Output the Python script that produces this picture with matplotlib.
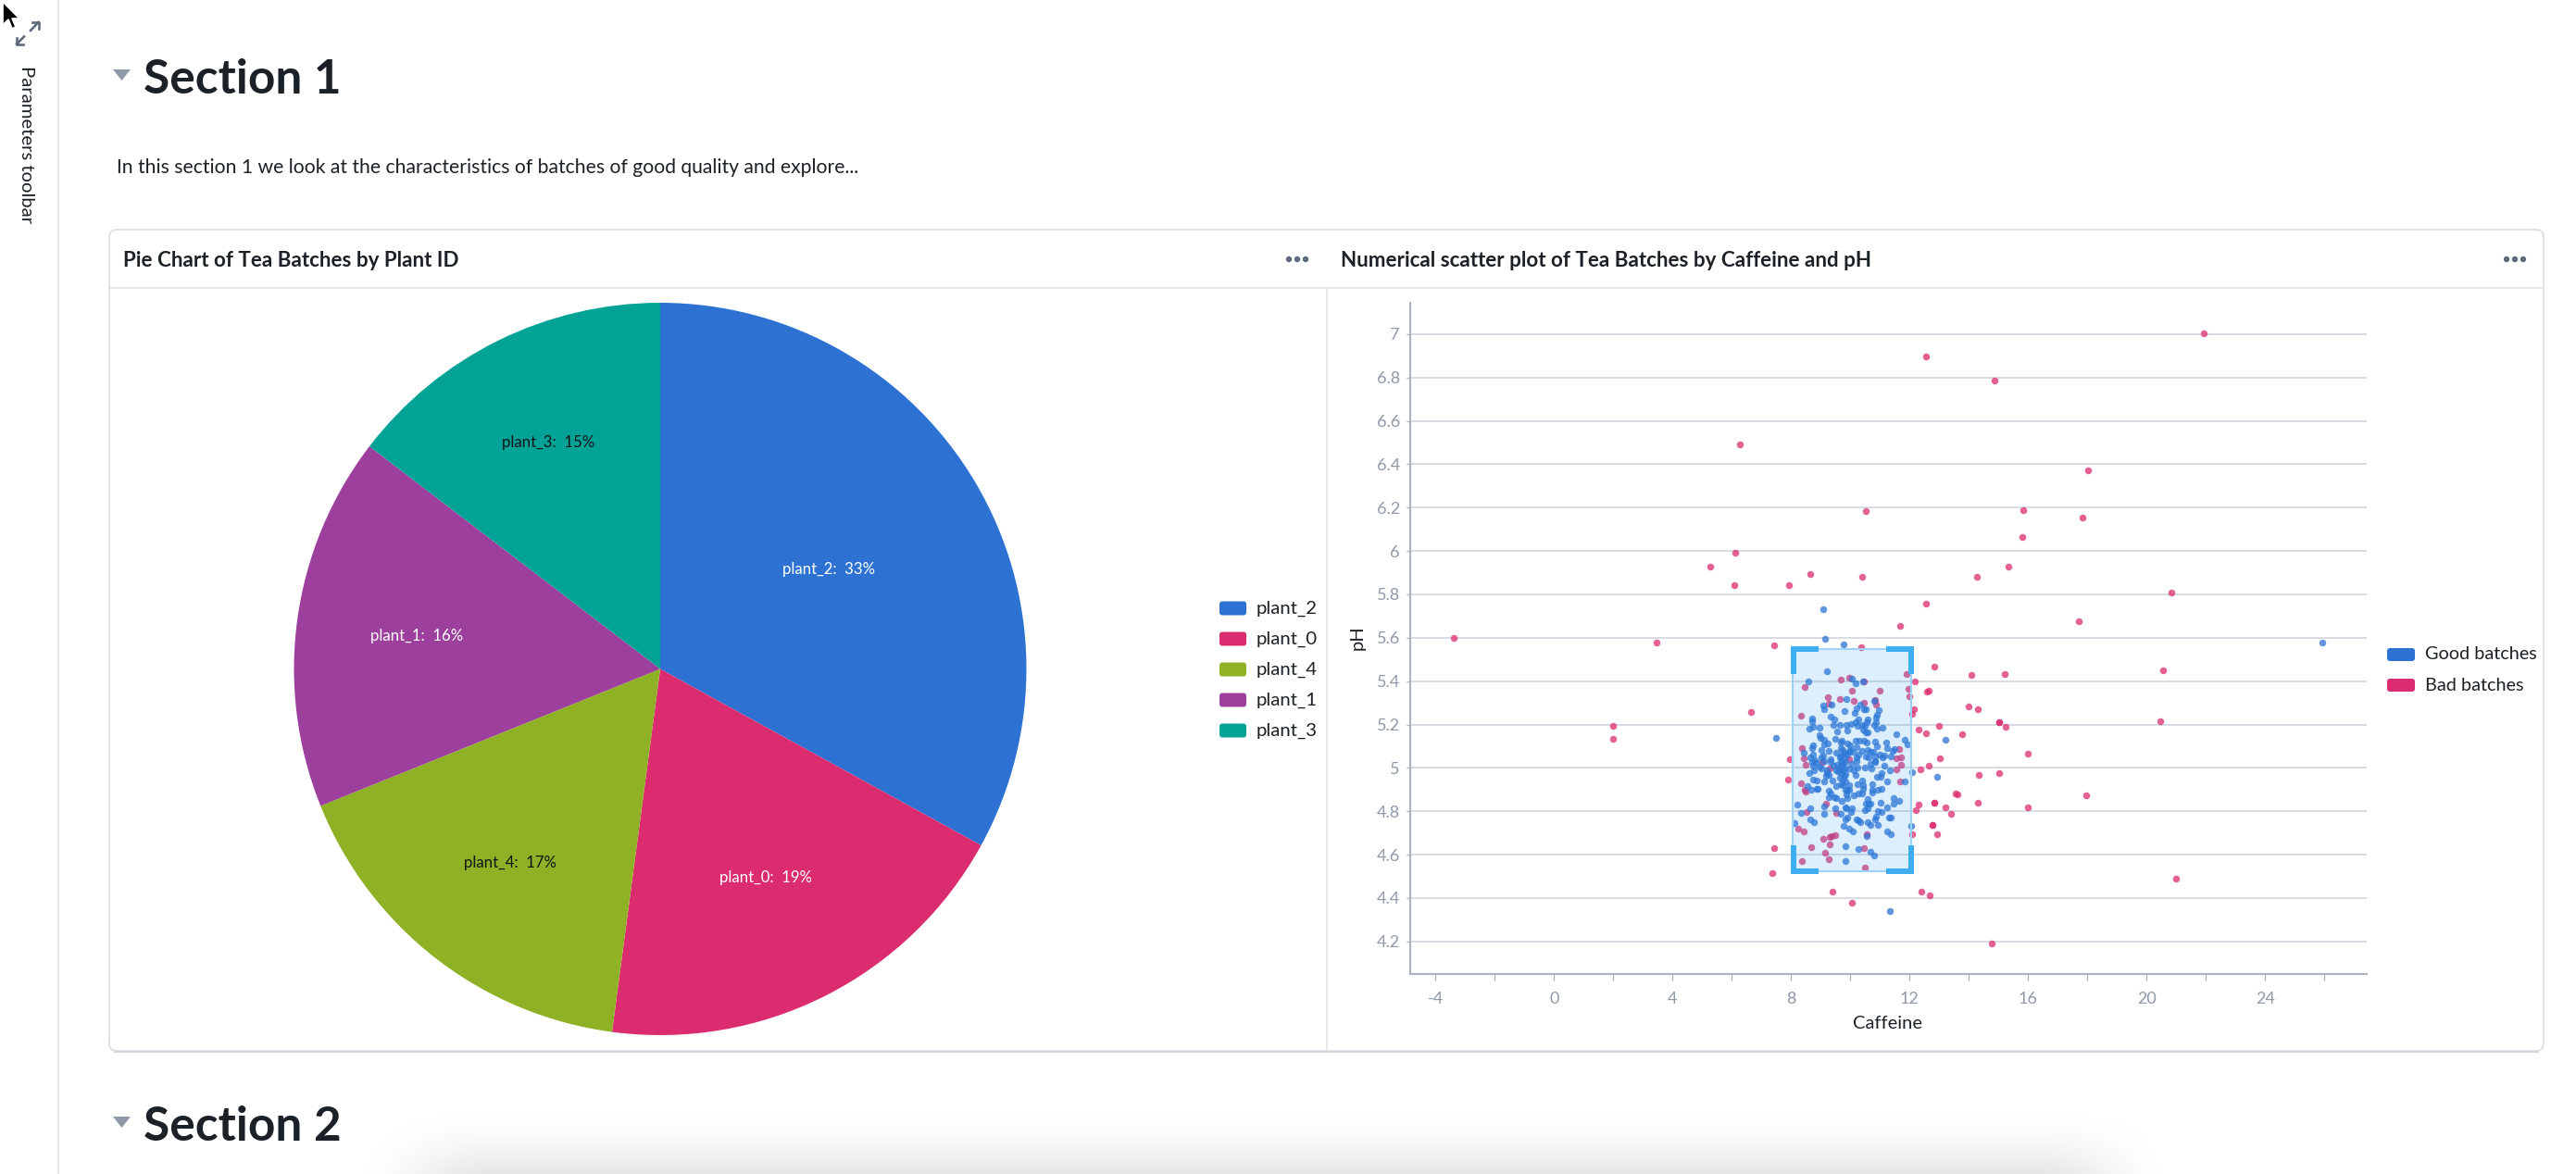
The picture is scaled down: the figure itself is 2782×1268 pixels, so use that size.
import numpy as np
import matplotlib
matplotlib.use("Agg")
import matplotlib.pyplot as plt
from matplotlib.patches import Rectangle, FancyBboxPatch, Polygon, Circle

# ------------------ data ------------------
plants = ["plant_2", "plant_0", "plant_4", "plant_1", "plant_3"]
plant_shares = [33.0, 19.1, 16.8, 16.5, 14.6]
plant_labels = ["33%", "19%", "17%", "16%", "15%"]
plant_colors = ["#2D72D2", "#DB2C6F", "#8EB125", "#9D3F9D", "#00A396"]
plant_text = ["white", "white", "#111418", "white", "#111418"]

good_batches = [
 (9.20,5.447),(8.58,5.398),(10.04,5.410),(10.18,5.390),(10.44,5.400),(9.07,5.289),(9.12,5.272),(9.38,5.291),
 (9.87,5.317),(10.79,5.308),(10.34,5.294),(10.21,5.277),(10.15,5.254),(10.96,5.268),(9.79,5.264),(10.47,5.271),
 (10.52,5.271),(10.91,5.244),(10.88,5.233),(9.32,5.237),(9.46,5.223),(8.71,5.228),(8.72,5.214),(10.28,5.223),
 (10.57,5.225),(10.54,5.211),(9.44,5.197),(9.65,5.198),(9.86,5.198),(10.02,5.204),(10.19,5.213),(10.79,5.197),
 (10.86,5.213),(10.24,5.193),(10.40,5.197),(10.50,5.193),(8.74,5.189),(8.61,5.179),(8.95,5.184),(9.54,5.169),
 (9.91,5.173),(10.90,5.181),(11.07,5.187),(10.44,5.176),(10.52,5.164),(10.60,5.163),(11.55,5.157),(8.96,5.152),
 (9.00,5.140),(9.48,5.133),(11.84,5.129),(11.92,5.109),(11.22,5.119),(9.72,5.126),(9.67,5.116),(10.18,5.127),
 (10.31,5.124),(10.47,5.126),(10.54,5.116),(10.84,5.123),(9.25,5.113),(9.13,5.129),(9.11,5.107),(8.75,5.105),
 (8.70,5.090),(9.03,5.082),(9.27,5.080),(9.90,5.112),(9.98,5.105),(9.74,5.083),(10.21,5.097),(11.25,5.093),
 (10.89,5.100),(10.57,5.083),(11.49,5.087),(11.44,5.079),(8.42,5.070),(8.75,5.062),(9.10,5.059),(10.40,5.079),
 (10.00,5.083),(10.08,5.073),(10.68,5.076),(10.78,5.073),(9.90,5.062),(9.69,5.059),(10.26,5.062),(10.52,5.055),
 (10.84,5.055),(11.36,5.055),(8.65,5.048),(9.01,5.048),(9.32,5.041),(9.53,5.069),(9.79,5.069),(9.95,5.076),
 (10.21,5.048),(10.63,5.048),(10.99,5.062),(11.10,5.048),(11.15,5.059),(9.69,5.090),(9.64,5.048),(9.79,5.050),
 (8.70,5.029),(8.86,5.023),(9.32,5.029),(9.56,5.014),(9.74,5.023),(9.01,4.997),(8.78,4.990),(8.62,4.976),
 (9.20,4.976),(9.27,4.969),(9.74,4.990),(9.69,4.976),(9.85,4.972),(9.95,4.997),(10.18,4.969),(10.24,5.002),
 (10.50,5.002),(10.70,4.997),(10.84,5.026),(11.15,5.009),(11.34,4.990),(11.04,4.976),(11.02,4.959),(10.89,4.959),
 (8.75,4.948),(8.86,4.940),(9.12,4.938),(9.41,4.940),(9.69,4.926),(9.53,4.915),(9.85,4.938),(10.40,4.940),
 (10.24,4.926),(10.42,4.919),(10.75,4.926),(11.25,4.938),(11.82,4.938),(12.08,4.979),(8.54,4.915),(8.67,4.901),
 (8.86,4.905),(8.91,4.902),(9.27,4.893),(9.32,4.884),(9.27,4.866),(9.45,4.866),(9.53,4.859),(9.85,4.901),
 (9.90,4.893),(9.95,4.898),(10.42,4.902),(10.40,4.884),(10.26,4.884),(10.13,4.874),(9.87,4.876),(9.90,4.862),
 (10.73,4.898),(10.73,4.886),(10.94,4.898),(11.04,4.905),(10.57,4.858),(10.61,4.834),(10.52,4.834),(10.68,4.837),
 (11.02,4.841),(11.46,4.862),(11.46,4.837),(11.65,4.849),(11.25,4.820),(9.72,4.848),(9.48,4.812),(9.85,4.820),
 (9.87,4.812),(10.05,4.812),(10.02,4.798),(9.12,4.824),(8.65,4.815),(8.21,4.831),(8.34,4.791),(9.12,4.790),
 (10.50,4.805),(10.57,4.815),(10.94,4.801),(11.06,4.798),(10.87,4.777),(10.84,4.763),(9.69,4.790),(9.90,4.770),
 (9.82,4.763),(10.26,4.760),(10.21,4.763),(10.34,4.748),(10.57,4.748),(10.68,4.738),(10.92,4.736),(11.31,4.770),
 (11.36,4.770),(8.65,4.764),(8.78,4.748),(8.11,4.747),(9.77,4.731),(9.95,4.721),(10.08,4.709),(11.24,4.709),
 (11.37,4.694),(10.55,4.687),(12.05,4.733),(9.85,4.637),(10.27,4.627),(10.68,4.613),(10.80,4.598),(9.85,4.572),
 (9.72,5.012),(9.79,4.997),(9.64,5.000),(9.59,4.983),(9.79,4.962),(9.64,4.955),(9.74,4.948),(9.22,4.990),
 (9.17,4.962),(8.96,5.004),(9.95,4.919),(9.74,4.919),(9.85,5.026),(9.69,5.033),(10.84,5.033),(10.68,5.019),
 (10.05,5.019),(10.21,5.033),(9.12,5.033),(8.80,5.036),(9.43,5.012),(9.53,4.990),(10.11,4.990),(8.75,5.012),
 (9.08,5.731),(9.15,5.596),(9.78,5.569),(7.50,5.138),(13.20,5.129),(12.92,4.959),(11.33,4.339),(25.94,5.580),
]

bad_batches = [
 (9.67,5.409),(9.96,5.416),(10.45,5.400),(8.45,5.373),(10.04,5.358),(11.00,5.356),(9.24,5.325),(9.27,5.298),
 (9.64,5.319),(10.11,5.308),(10.46,5.302),(10.82,5.312),(10.87,5.294),(8.35,5.241),(8.38,5.092),(11.90,5.432),
 (11.96,5.366),(11.98,5.332),(11.64,5.086),(9.95,5.041),(8.44,5.045),(11.56,5.045),(11.70,5.048),(8.49,5.016),
 (9.06,5.026),(9.29,4.997),(11.56,4.992),(11.71,5.014),(8.34,4.930),(8.47,4.901),(8.49,4.891),(11.67,4.939),
 (9.17,4.837),(8.52,4.798),(9.53,4.791),(8.25,4.721),(8.42,4.709),(10.54,4.694),(12.08,4.694),(9.50,4.689),
 (9.29,4.682),(9.38,4.684),(9.07,4.674),(9.29,4.649),(8.68,4.636),(10.46,4.630),(9.15,4.609),(9.27,4.579),
 (8.36,4.569),(10.49,4.541),
 (-3.39,5.600),(3.46,5.580),(7.44,5.566),(12.54,5.757),(11.68,5.654),(10.36,5.558),(12.83,5.467),(14.09,5.430),
 (15.20,5.434),(12.18,5.400),(12.60,5.353),(12.65,5.354),(6.66,5.256),(1.99,5.193),(1.98,5.134),(12.14,5.269),
 (12.08,5.249),(13.98,5.282),(14.31,5.269),(15.01,5.213),(15.01,5.213),(15.24,5.189),(13.00,5.192),(12.30,5.175),
 (12.54,5.159),(13.78,5.155),(15.98,5.065),(13.02,5.046),(12.65,5.009),(12.38,4.994),(15.01,4.977),(14.34,4.967),
 (7.95,5.041),(7.89,4.945),(13.56,4.882),(13.61,4.878),(12.83,4.839),(12.83,4.839),(12.29,4.831),(12.20,4.804),
 (13.20,4.816),(13.40,4.788),(14.29,4.839),(16.00,4.816),(12.78,4.735),(12.78,4.735),(12.92,4.693),(7.44,4.632),
 (7.36,4.515),(9.40,4.431),(10.04,4.378),(12.40,4.430),(12.69,4.411),(14.76,4.191),
 (21.93,7.003),(12.55,6.897),(14.86,6.784),(6.28,6.491),(18.02,6.370),(10.53,6.185),(15.82,6.190),(17.84,6.153),
 (15.79,6.065),(6.13,5.993),(5.27,5.928),(15.35,5.926),(8.64,5.894),(10.40,5.882),(14.26,5.882),(6.08,5.841),
 (7.92,5.841),(20.84,5.808),(20.56,5.450),(20.45,5.216),(17.70,5.678),(17.96,4.875),(21.00,4.490),
]

x_ticks = list(range(-4, 28, 2))
x_tick_labels = ["-4", "", "0", "", "4", "", "8", "", "12", "", "16", "", "20", "", "24", ""]
y_ticks = [4.2, 4.4, 4.6, 4.8, 5.0, 5.2, 5.4, 5.6, 5.8, 6.0, 6.2, 6.4, 6.6, 6.8, 7.0]
y_tick_labels = ["4.2", "4.4", "4.6", "4.8", "5", "5.2", "5.4", "5.6", "5.8", "6", "6.2", "6.4", "6.6", "6.8", "7"]
scatter_series = ["Good batches", "Bad batches"]
scatter_colors = ["#2D72D2", "#DB2C6F"]
selection_x = (8.05, 12.04)
selection_y = (4.525, 5.548)

# ------------------ page ------------------
W, H = 2782, 1268
FONT = ["Lato", "DejaVu Sans"]
plt.rcParams["font.family"] = FONT
INK = "#1C2127"
BORDER = "#D8DCE2"
GRAY = "#8F99A8"

fig = plt.figure(figsize=(W / 100, H / 100), dpi=100, facecolor="white")

def px_axes(l, t, r, b, **kw):
    return fig.add_axes([l / W, 1 - b / H, (r - l) / W, (b - t) / H], **kw)

page = px_axes(0, 0, W, H, zorder=0)
page.set_xlim(0, W); page.set_ylim(H, 0); page.axis("off")
top = px_axes(0, 0, W, H, zorder=5)
top.set_xlim(0, W); top.set_ylim(H, 0); top.axis("off"); top.patch.set_alpha(0)

# sidebar
page.plot([63, 63], [0, H], color="#DCE0E5", lw=1.2)
page.text(28, 156, "Parameters toolbar", rotation=-90, ha="center", va="center", fontsize=14.6, color=INK)
for a, b in [((33, 33), (41.5, 24)), ((26, 39.5), (18, 47.7))]:
    page.plot([a[0], b[0]], [a[1], b[1]], color="#5F6B7C", lw=1.9)
    sx = 1 if b[0] > a[0] else -1
    sy = 1 if b[1] > a[1] else -1
    page.plot([b[0] - sx * 7, b[0], b[0]], [b[1], b[1], b[1] - sy * 7], color="#5F6B7C", lw=1.9)
top.add_patch(Polygon([(3, 2), (3, 27), (9, 21), (13, 31), (17, 29), (13, 20), (21, 20)],
                      closed=True, fc="black", ec="white", lw=1.2, zorder=9))

# headings
for tx, ty, label in [(155, 101, "Section 1"), (155, 1232, "Section 2")]:
    page.text(tx, ty, label, fontsize=37, fontweight="bold", color=INK, ha="left", va="baseline")
    page.add_patch(Polygon([(122, ty - 26), (141, ty - 26), (131.5, ty - 14)], closed=True, fc=GRAY, ec="none"))
page.text(126, 187, "In this section 1 we look at the characteristics of batches of good quality and explore...",
          fontsize=15.2, color=INK, ha="left", va="baseline")

# card
page.add_patch(FancyBboxPatch((118, 248), 2747 - 118, 1135 - 248, boxstyle="round,pad=0,rounding_size=8",
                              fc="white", ec="#DCE0E5", lw=1.3))
page.plot([118, 2747], [311, 311], color="#E1E4E8", lw=1.2)
page.plot([1432.5, 1432.5], [311, 1135], color="#E1E4E8", lw=1.2)
page.plot([124, 2741], [1135.5, 1135.5], color="#D3D8DE", lw=1.6)
page.text(133, 288, "Pie Chart of Tea Batches by Plant ID", fontsize=16.1, fontweight="bold", color=INK, va="baseline")
page.text(1448, 288, "Numerical scatter plot of Tea Batches by Caffeine and pH", fontsize=16.1, fontweight="bold",
          color=INK, va="baseline")
for off in (0, 1315):
    for dx in (1392, 1401, 1410):
        page.add_patch(Circle((dx + off, 280), 3.2, fc="#5F6B7C", ec="none"))

# legends
for i, (name, col) in enumerate(zip(plants, plant_colors)):
    yc = 657 + 33 * i
    page.add_patch(FancyBboxPatch((1317, yc - 7.5), 29, 15, boxstyle="round,pad=0,rounding_size=3", fc=col, ec="none"))
    page.text(1357, yc, name, fontsize=14.7, color=INK, va="center", ha="left")
for i, (name, col) in enumerate(zip(scatter_series, scatter_colors)):
    yc = 707 + 33 * i
    page.add_patch(FancyBboxPatch((2578, yc - 7), 30, 14, boxstyle="round,pad=0,rounding_size=3", fc=col, ec="none"))
    page.text(2619, yc, name, fontsize=14.3, color=INK, va="center", ha="left")

# pie
CX, CY, R = 713, 722.5, 395.5
pie_ax = px_axes(CX - R, CY - R, CX + R, CY + R, zorder=2)
wedges, _ = pie_ax.pie(plant_shares, colors=plant_colors, startangle=90, counterclock=False, radius=1,
                       wedgeprops=dict(lw=0))
pie_ax.set_xlim(-1, 1); pie_ax.set_ylim(-1, 1)
for w, name, pct, tc, rl in zip(wedges, plants, plant_labels, plant_text, (0.535, 0.64, 0.67, 0.67, 0.69)):
    ang = np.deg2rad((w.theta1 + w.theta2) / 2)
    pie_ax.text(rl * np.cos(ang), rl * np.sin(ang), f"{name}:  {pct}", color=tc, fontsize=12.1,
                ha="center", va="center")

# scatter
ax = px_axes(1523, 326.7, 2556, 1051.7, zorder=2)
ax.patch.set_alpha(0)
ax.set_xlim(-4.853, 27.43)
ax.set_ylim(4.051, 7.146)
for s in ("top", "right"):
    ax.spines[s].set_visible(False)
for s in ("left", "bottom"):
    ax.spines[s].set_color("#ABB3BF"); ax.spines[s].set_linewidth(1.5)
ax.set_xticks(x_ticks); ax.set_xticklabels(x_tick_labels)
ax.set_yticks(y_ticks); ax.set_yticklabels(y_tick_labels)
ax.tick_params(axis="x", length=5, width=1, color="#ABB3BF", labelcolor=GRAY, labelsize=13, pad=9)
ax.tick_params(axis="y", length=3, width=1, color="#ABB3BF", labelcolor=GRAY, labelsize=13, pad=5)
ax.grid(axis="y", color=BORDER, lw=1.4, zorder=0)
ax.set_axisbelow(True)
ax.set_xlabel("Caffeine", fontsize=14.5, color=INK)
ax.set_ylabel("pH", fontsize=14.5, color=INK)
ax.yaxis.set_label_coords((1475 - 1523) / (2556 - 1523), (1051.7 - 689) / (1051.7 - 326.7))
ax.xaxis.set_label_coords((2039 - 1523) / (2556 - 1523), -(1097 - 1051.7) / (1051.7 - 326.7))
bad = np.array(bad_batches)
good = np.array(good_batches)
ax.scatter(bad[:, 0], bad[:, 1], s=29, c=scatter_colors[1], alpha=0.75, linewidths=0, zorder=3)
ax.scatter(good[:, 0], good[:, 1], s=29, c=scatter_colors[0], alpha=0.75, linewidths=0, zorder=3)
ax.add_patch(Rectangle((selection_x[0], selection_y[0]), selection_x[1] - selection_x[0],
                       selection_y[1] - selection_y[0], fc="#2D9BF0", alpha=0.16, ec="none", zorder=4))
ax.add_patch(Rectangle((selection_x[0], selection_y[0]), selection_x[1] - selection_x[0],
                       selection_y[1] - selection_y[0], fc="none", ec="#9CD3F6", lw=1.5, zorder=5))

# selection corner brackets
BR = "#3DAEF0"
for rect in [(1934, 698, 30, 6), (1934, 698, 6, 30), (2037, 698, 30, 6), (2061, 698, 6, 30),
             (1934, 938, 30, 6), (1934, 913, 6, 31), (2037, 938, 30, 6), (2061, 913, 6, 31)]:
    top.add_patch(Rectangle(rect[:2], rect[2], rect[3], fc=BR, ec="none", zorder=6))

# blurred shadow at the bottom of the page
gx = np.linspace(0, 1, 400)
gy = np.linspace(0, 1, 80)
def smooth(t):
    t = np.clip(t, 0, 1)
    return t * t * (3 - 2 * t)
ax_x = smooth(gx / 0.08) * smooth((1 - gx) / 0.08)
ax_y = gy ** 1.7
rgba = np.zeros((80, 400, 4))
rgba[..., 3] = 0.10 * np.outer(ax_y, ax_x)
top.imshow(rgba, extent=(375, 2355, 1268, 1192), aspect="auto", zorder=1, interpolation="bilinear")
top.set_xlim(0, W); top.set_ylim(H, 0)

fig.savefig("out.png", dpi=100, facecolor="white")
